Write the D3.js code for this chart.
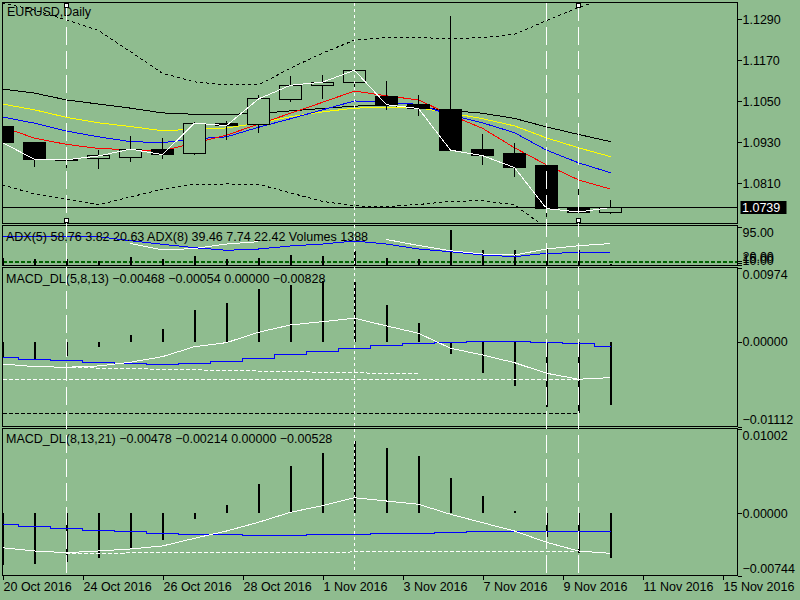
<!DOCTYPE html>
<html><head><meta charset="utf-8">
<script src="https://cdn.jsdelivr.net/npm/d3@7/dist/d3.min.js"></script>
<style>
body{margin:0;background:#8fbc8f;}
svg{display:block;}
text{font-family:"Liberation Sans",Arial,sans-serif;font-size:12.5px;fill:#000;}
</style>
</head><body>
<svg id="c" width="800" height="600"></svg>
<script>
// ---------------- DATA ----------------
const dateLabels = ["20 Oct 2016","24 Oct 2016","26 Oct 2016","28 Oct 2016","1 Nov 2016","3 Nov 2016","7 Nov 2016","9 Nov 2016","11 Nov 2016","15 Nov 2016"];
const priceTicks = [1.0810,1.0930,1.1050,1.1170,1.1290];
const macd1Ticks = [0.00974,0.00000,-0.01112];
const macd2Ticks = [0.01002,0.00000,-0.00744];
const adxTicks = [95, 20, 15, 10];

const open  = [1.0976,1.0929,1.0881,1.0880,1.0888,1.0910,1.0897,1.0986,1.0981,1.1056,1.1097,1.1106,1.1063,1.1042,1.1027,1.0910,1.0896,1.0861,1.0740,1.0725];
const high  = [1.0980,1.0930,1.0902,1.0907,1.0948,1.0942,1.0990,1.0993,1.1068,1.1124,1.1126,1.1143,1.1110,1.1068,1.1301,1.0954,1.0927,1.0861,1.0820,1.0761];
const low   = [1.0925,1.0857,1.0855,1.0851,1.0872,1.0882,1.0893,1.0937,1.0958,1.1049,1.1058,1.1090,1.1025,1.1007,1.0907,1.0864,1.0829,1.0712,1.0722,1.0719];
const close = [1.0929,1.0880,1.0879,1.0890,1.0910,1.0894,1.0986,1.0979,1.1057,1.1097,1.1106,1.1141,1.1040,1.1029,1.0907,1.0891,1.0856,1.0736,1.0726,1.0739];

const maBlack  = [1.1086,1.1074,1.1054,1.1042,1.1030,1.1016,1.1012,1.1012,1.1014,1.1022,1.1029,1.1036,1.1038,1.1032,1.1023,1.1015,1.1000,1.0975,1.0953,1.0932];
const maYellow = [1.1042,1.1025,1.1003,1.0987,1.0976,1.0964,1.0968,1.0972,1.0986,1.1005,1.1019,1.1030,1.1032,1.1031,1.1016,1.0999,1.0978,1.0943,1.0914,1.0888];
const maBlue   = [1.1004,1.0986,1.0963,1.0946,1.0932,1.0929,1.0940,1.0946,1.0974,1.0999,1.1025,1.1051,1.1047,1.1041,1.1010,1.0987,1.0958,1.0907,1.0870,1.0841];
const maRed    = [1.0975,1.0942,1.0924,1.0912,1.0908,1.0905,1.0928,1.0951,1.0983,1.1015,1.1047,1.1080,1.1066,1.1054,1.1010,1.0971,1.0914,1.0864,1.0820,1.0793];
const bandUpper = [1.1338,1.1317,1.1288,1.1257,1.1195,1.1132,1.1107,1.1098,1.1098,1.1147,1.1191,1.1229,1.1237,1.1236,1.1234,1.1236,1.1246,1.1286,1.1325,1.1355];
const bandLower = [1.0805,1.0779,1.0763,1.0747,1.0770,1.0793,1.0807,1.0808,1.0807,1.0782,1.0757,1.0744,1.0742,1.0748,1.0757,1.0759,1.0747,1.0679,1.0629,1.0615];

const adx5 = [null,null,null,null,58.9,44.5,47.8,57.8,63.0,null,null,null,67.8,54.5,42.9,35.6,33.3,46.7,54.0,58.76];
const adx8 = [75.6,75.6,75.6,74.1,65.2,57.2,49.6,43.8,46.7,53.4,57.8,64.5,57.8,46.7,40.7,33.3,29.6,37.1,38.5,39.46];
const adx5DI = [3.82, 20.63];
const adx8DI = [7.74, 22.42];
const adxLevels = [20, 16];
const volumes = [11900,11300,11300,7900,14500,11300,17800,11300,13300,19200,16500,25800,13300,11300,69400,29700,29700,31100,27800,1388];

const macd1Hist   = [-0.00200,-0.00227,-0.00180,-0.00062,0.00092,0.00171,0.00420,0.00508,0.00691,0.00748,0.00804,0.00791,0.00485,0.00245,-0.00161,-0.00403,-0.00573,-0.00849,-0.00935,-0.00828];
const macd1Main   = [-0.00289,-0.00324,-0.00332,-0.00315,-0.00266,-0.00193,-0.00062,-0.00009,0.00127,0.00223,0.00266,0.00311,0.00210,0.00114,-0.00083,-0.00171,-0.00272,-0.00411,-0.00489,-0.00468];
const macd1Signal = [-0.00206,-0.00227,-0.00249,-0.00266,-0.00285,-0.00293,-0.00279,-0.00258,-0.00214,-0.00171,-0.00127,-0.00083,-0.00052,-0.00022,-0.00009,0.00004,0.00004,-0.00004,-0.00017,-0.00054];
const macd1MainLow = [[0,-0.00489],[18,-0.00489]];
const macd1Trend   = [[2,-0.00335],[13,-0.00420]];
const macd1HistLow = [[0,-0.00935],[18,-0.00935]];

const macd2Hist   = [-0.00620,-0.00608,-0.00584,-0.00530,-0.00411,-0.00319,-0.00073,0.00098,0.00348,0.00562,0.00713,0.00863,0.00772,0.00681,0.00423,0.00205,0.00026,-0.00280,-0.00470,-0.00528];
const macd2Main   = [-0.00411,-0.00450,-0.00470,-0.00450,-0.00426,-0.00390,-0.00299,-0.00212,-0.00108,0.00011,0.00089,0.00184,0.00145,0.00106,-0.00013,-0.00113,-0.00212,-0.00346,-0.00450,-0.00478];
const macd2Signal = [-0.00132,-0.00161,-0.00180,-0.00204,-0.00220,-0.00236,-0.00251,-0.00259,-0.00271,-0.00271,-0.00259,-0.00251,-0.00239,-0.00239,-0.00227,-0.00218,-0.00218,-0.00218,-0.00218,-0.00214];
const macd2MainLow = [[2,-0.00477],[18,-0.00450]];

const eventBars = [2, 11, 17, 18];
const selectedBars = [2, 18];

// ---------------- LAYOUT ----------------
const svg = d3.select('#c');
const L = 2.5, R = 737.5;
const panels = {
  main:[2.5,223.5], adx:[225.5,265], m1:[267.5,426.5], m2:[428.5,575.5]
};
const BG = '#8fbc8f';
svg.append('rect').attr('width',800).attr('height',600).attr('fill',BG);

const n = close.length;
const xBar = d3.scaleLinear().domain([0, n-1]).range([2.5, 610.5]);
const yMain = d3.scaleLinear().domain([1.0810,1.1290]).range([183.3,19.3]);
const yAdx = d3.scaleLinear().domain([20,95]).range([261,227.3]);
const yVol = d3.scaleLinear().domain([0,70000]).range([264.5,229.2]);
const yM1 = d3.scaleLinear().domain([-0.01112,0.00974]).range([426.7,267.7]);
const yM2 = d3.scaleLinear().domain([-0.00744,0.01002]).range([575.7,429]);

const defs = svg.append('defs');
function panelGroup(key){
  const [t,b] = panels[key];
  defs.append('clipPath').attr('id','clip-'+key).append('rect')
    .attr('x',L).attr('y',t).attr('width',R-L).attr('height',b-t);
  return svg.append('g').attr('clip-path','url(#clip-'+key+')');
}
const crisp = v => Math.round(v - 0.5) + 0.5;

function drawSeries(g, values, y, color, opt={}){
  const line = d3.line().defined(d=>d[1]!=null)
    .x(d=>xBar(d[0])).y(d=>y(d[1])).curve(opt.curve||d3.curveLinear);
  g.append('path').datum(values.map((v,i)=>[i,v])).attr('d',line)
    .attr('fill','none').attr('stroke',color).attr('stroke-width',1)
    .attr('stroke-dasharray',opt.dash||null)
    .attr('shape-rendering','crispEdges');
}
function drawPairs(g, pairs, y, color, dash){
  const line = d3.line().x(d=>xBar(d[0])).y(d=>y(d[1]));
  g.append('path').datum(pairs).attr('d',line).attr('fill','none')
    .attr('stroke',color).attr('stroke-width',1).attr('stroke-dasharray',dash)
    .attr('shape-rendering','crispEdges');
}
function drawHist(g, values, y, base, color, w){
  g.selectAll(null).data(values).enter().append('line')
    .attr('x1',(d,i)=>xBar(i)+0.5).attr('x2',(d,i)=>xBar(i)+0.5)
    .attr('y1',y(base)).attr('y2',d=>y(d))
    .attr('stroke',color).attr('stroke-width',w).attr('shape-rendering','crispEdges');
}

// ---------------- MAIN PANEL ----------------
const gMain = panelGroup('main');
drawSeries(gMain, bandUpper, yMain, '#000', {dash:'3,3'});
drawSeries(gMain, bandLower, yMain, '#000', {dash:'3,3'});
drawSeries(gMain, maBlack, yMain, '#000');
drawSeries(gMain, maYellow, yMain, '#ffff00');
drawSeries(gMain, maBlue, yMain, '#0000ff');
drawSeries(gMain, maRed, yMain, '#ff0000');

// candles
const idx = d3.range(n);
gMain.selectAll('.wick').data(idx).enter().append('line')
  .attr('x1',i=>xBar(i)).attr('x2',i=>xBar(i))
  .attr('y1',i=>yMain(high[i])).attr('y2',i=>yMain(low[i]))
  .attr('stroke','#000').attr('shape-rendering','crispEdges');
gMain.selectAll('.body').data(idx).enter().append('rect')
  .attr('x',i=>xBar(i)-11).attr('width',22)
  .attr('y',i=>crisp(yMain(Math.max(open[i],close[i]))))
  .attr('height',i=>Math.max(1,Math.round(Math.abs(yMain(open[i])-yMain(close[i])))))
  .attr('fill',i=>close[i]>=open[i]?BG:'#000')
  .attr('stroke','#000').attr('shape-rendering','crispEdges');
drawSeries(gMain, close, yMain, '#fff');
// current price line
gMain.append('line').attr('x1',L).attr('x2',R)
  .attr('y1',crisp(yMain(close[n-1]))).attr('y2',crisp(yMain(close[n-1])))
  .attr('stroke','#000').attr('shape-rendering','crispEdges');
svg.append('text').attr('x',7).attr('y',16).text('EURUSD,Daily');

// ---------------- ADX PANEL ----------------
const gAdx = panelGroup('adx');
adxLevels.forEach(v=>{
  gAdx.append('line').attr('x1',L).attr('x2',R).attr('y1',crisp(yAdx(v))).attr('y2',crisp(yAdx(v)))
    .attr('stroke','#006400').attr('stroke-dasharray','4,2').attr('shape-rendering','crispEdges');
});
drawHist(gAdx, volumes, yVol, 0, '#000', 1.5);
drawSeries(gAdx, adx8, yAdx, '#0000ff');
drawSeries(gAdx, adx5, yAdx, '#fff');
const f2 = d3.format('.2f');
svg.append('text').attr('x',6).attr('y',241)
  .text(`ADX(5) ${f2(adx5[n-1])} ${f2(adx5DI[0])} ${f2(adx5DI[1])} ADX(8) ${f2(adx8[n-1])} ${f2(adx8DI[0])} ${f2(adx8DI[1])} Volumes ${volumes[n-1]}`);

// ---------------- MACD 1 ----------------
const f5 = d3.format('.5f');
const gM1 = panelGroup('m1');
drawHist(gM1, macd1Hist, yM1, 0, '#000', 2);
drawPairs(gM1, macd1HistLow, yM1, '#000', '4,2');
drawPairs(gM1, macd1MainLow, yM1, '#fff', '4,2');
drawPairs(gM1, macd1Trend, yM1, '#fff', '4,2');
drawSeries(gM1, macd1Signal, yM1, '#0000ff', {curve:d3.curveStep});
drawSeries(gM1, macd1Main, yM1, '#fff');
svg.append('text').attr('x',6).attr('y',283)
  .text(`MACD_DL(5,8,13) ${f5(macd1Main[n-1])} ${f5(macd1Signal[n-1])} ${f5(0)} ${f5(macd1Hist[n-1])}`);

// ---------------- MACD 2 ----------------
const gM2 = panelGroup('m2');
drawHist(gM2, macd2Hist, yM2, 0, '#000', 2);
drawPairs(gM2, macd2MainLow, yM2, '#fff', '4,2');
drawSeries(gM2, macd2Signal, yM2, '#0000ff', {curve:d3.curveStep});
drawSeries(gM2, macd2Main, yM2, '#fff');
svg.append('text').attr('x',6).attr('y',443)
  .text(`MACD_DL(8,13,21) ${f5(macd2Main[n-1])} ${f5(macd2Signal[n-1])} ${f5(0)} ${f5(macd2Hist[n-1])}`);

// ---------------- PANEL FRAMES ----------------
Object.values(panels).forEach(([t,b])=>{
  svg.append('rect').attr('x',L).attr('y',t).attr('width',R-L).attr('height',b-t)
    .attr('fill','none').attr('stroke','#000').attr('shape-rendering','crispEdges');
});

// ---------------- EVENT VERTICAL LINES ----------------
eventBars.forEach((b,k)=>{
  svg.append('line').attr('x1',xBar(b)).attr('x2',xBar(b)).attr('y1',3).attr('y2',573)
    .attr('stroke','#fff').attr('stroke-dasharray', k===1 ? '3,3' : '18,6')
    .attr('shape-rendering','crispEdges');
});
selectedBars.forEach(b=>{
  [5.5, 220.5].forEach(yy=>{
    svg.append('rect').attr('x',xBar(b)-2).attr('y',yy-2).attr('width',4).attr('height',4)
      .attr('fill','#fff').attr('stroke','#000').attr('shape-rendering','crispEdges');
  });
});

// ---------------- AXES ----------------
function styleAxis(g){
  g.select('.domain').remove();
  g.selectAll('line').attr('stroke','#000').attr('shape-rendering','crispEdges');
  g.selectAll('text').attr('font-family','"Liberation Sans",Arial,sans-serif').attr('font-size','12.5px').attr('fill','#000');
}
const axMain = svg.append('g').attr('transform',`translate(${R},0)`)
  .call(d3.axisRight(yMain).tickValues(priceTicks).tickFormat(d3.format('.4f')).tickSize(4).tickPadding(1));
styleAxis(axMain);

const axAdx = svg.append('g').attr('transform',`translate(${R},0)`)
  .call(d3.axisRight(yAdx).tickValues(adxTicks).tickFormat(f2).tickSize(4).tickPadding(1));
styleAxis(axAdx);
axAdx.selectAll('.tick text').attr('dy',(d,i)=> i===0 ? '0.75em' : '-0.05em');

function macdAxis(y, ticks){
  const g = svg.append('g').attr('transform',`translate(${R},0)`)
    .call(d3.axisRight(y).tickValues(ticks).tickFormat(f5).tickSize(4).tickPadding(1));
  styleAxis(g);
  g.selectAll('.tick text').attr('dy',(d,i)=> i===0 ? '0.85em' : (i===ticks.length-1 ? '-0.25em' : '0.32em'));
}
macdAxis(yM1, macd1Ticks);
macdAxis(yM2, macd2Ticks);

// price label
const py = crisp(yMain(close[n-1]));
svg.append('rect').attr('x',740.5).attr('y',py-6.5).attr('width',46).attr('height',13).attr('fill','#000');
svg.append('text').attr('x',742).attr('y',py).attr('dy','0.35em').attr('fill','#fff').style('fill','#fff')
  .text(d3.format('.4f')(close[n-1]));

const axX = svg.append('g').attr('transform',`translate(0,${panels.m2[1]})`)
  .call(d3.axisBottom(xBar).tickValues(dateLabels.map((d,i)=>i*2.5)).tickFormat((d,i)=>dateLabels[i]).tickSize(4));
styleAxis(axX);
axX.selectAll('.tick text').attr('text-anchor','start').attr('x',0.5);
</script>
</body></html>
